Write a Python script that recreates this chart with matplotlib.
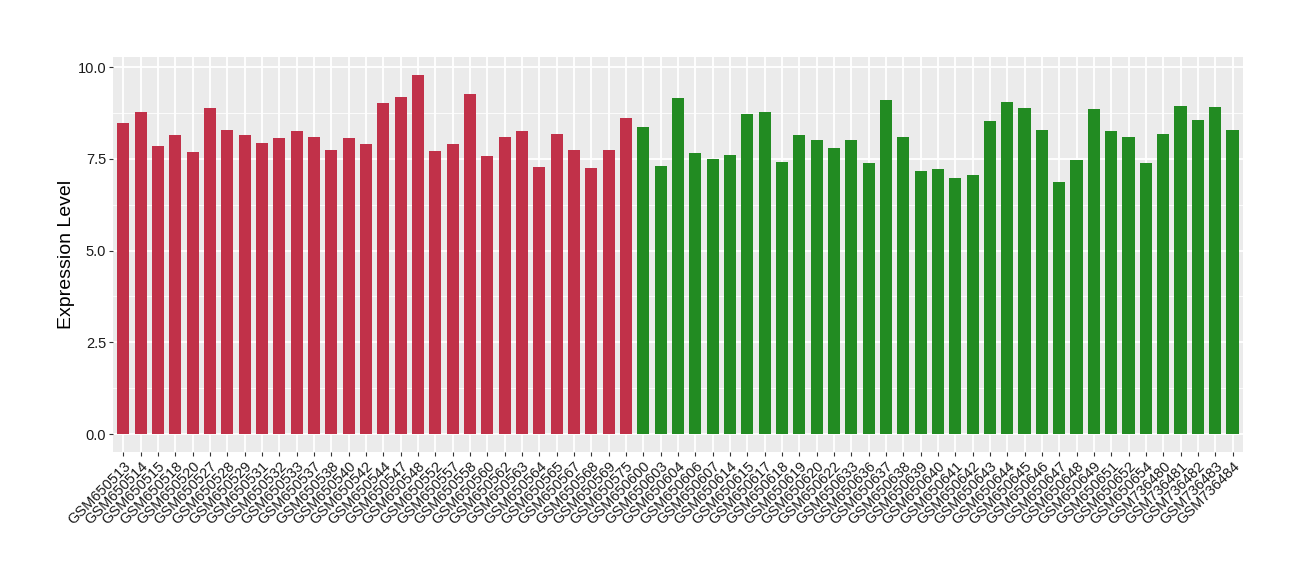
import numpy as np
import matplotlib.pyplot as plt
from matplotlib.ticker import MultipleLocator

samples_a = ["GSM650513", "GSM650514", "GSM650515", "GSM650518", "GSM650520",
             "GSM650527", "GSM650528", "GSM650529", "GSM650531", "GSM650532",
             "GSM650533", "GSM650537", "GSM650538", "GSM650540", "GSM650542",
             "GSM650544", "GSM650547", "GSM650548", "GSM650552", "GSM650557",
             "GSM650558", "GSM650560", "GSM650562", "GSM650563", "GSM650564",
             "GSM650565", "GSM650567", "GSM650568", "GSM650569", "GSM650575"]
values_a = [8.49, 8.79, 7.86, 8.16, 7.70, 8.89, 8.30, 8.16, 7.94, 8.08,
            8.27, 8.11, 7.75, 8.08, 7.92, 9.03, 9.19, 9.79, 7.73, 7.92,
            9.28, 7.59, 8.11, 8.27, 7.29, 8.19, 7.75, 7.26, 7.75, 8.62]

samples_b = ["GSM650600", "GSM650603", "GSM650604", "GSM650606", "GSM650607",
             "GSM650614", "GSM650615", "GSM650617", "GSM650618", "GSM650619",
             "GSM650620", "GSM650622", "GSM650633", "GSM650636", "GSM650637",
             "GSM650638", "GSM650639", "GSM650640", "GSM650641", "GSM650642",
             "GSM650643", "GSM650644", "GSM650645", "GSM650646", "GSM650647",
             "GSM650648", "GSM650649", "GSM650651", "GSM650652", "GSM650654",
             "GSM736480", "GSM736481", "GSM736482", "GSM736483", "GSM736484"]
values_b = [8.38, 7.32, 9.17, 7.67, 7.51, 7.62, 8.73, 8.79, 7.43, 8.16,
            8.03, 7.81, 8.03, 7.40, 9.11, 8.11, 7.18, 7.23, 6.97, 7.05,
            8.54, 9.06, 8.89, 8.30, 6.86, 7.48, 8.87, 8.27, 8.11, 7.40,
            8.19, 8.95, 8.57, 8.92, 8.30]

color_a = "#C13149"
color_b = "#228B22"

labels = samples_a + samples_b
values = values_a + values_b
colors = [color_a] * len(samples_a) + [color_b] * len(samples_b)
x = np.arange(len(labels))

plt.rcParams['font.family'] = ['Liberation Sans', 'DejaVu Sans']

fig = plt.figure(figsize=(13, 5.8), dpi=100)
ax = fig.add_axes([0.0869, 0.2207, 0.8692, 0.681])
ax.set_facecolor("#EBEBEB")

ax.bar(x, values, width=0.7, color=colors, zorder=3)

ax.set_xlim(-0.6, len(labels) - 0.4)
ymax = max(values)
ax.set_ylim(-0.05 * ymax, ymax * 1.05)

ax.yaxis.set_minor_locator(MultipleLocator(1.25))
ax.set_yticks([0, 2.5, 5, 7.5, 10])
ax.set_yticklabels(["0.0", "2.5", "5.0", "7.5", "10.0"])
ax.set_xticks(x)
ax.set_xticklabels(labels, rotation=45, ha="right", rotation_mode="anchor")

ax.grid(which="major", color="white", linewidth=1.3, zorder=0)
ax.grid(which="minor", axis="y", color="white", linewidth=0.6, zorder=0)
ax.set_axisbelow(True)

for s in ax.spines.values():
    s.set_visible(False)
ax.tick_params(axis="both", which="major", length=3, width=0.8, pad=2,
               color="#333333", labelsize=10.5, labelcolor="#1A1A1A")
ax.tick_params(axis="y", which="minor", length=0)

ax.set_ylabel("Expression Level", fontsize=14, labelpad=2)

fig.savefig("out.png", dpi=100)
